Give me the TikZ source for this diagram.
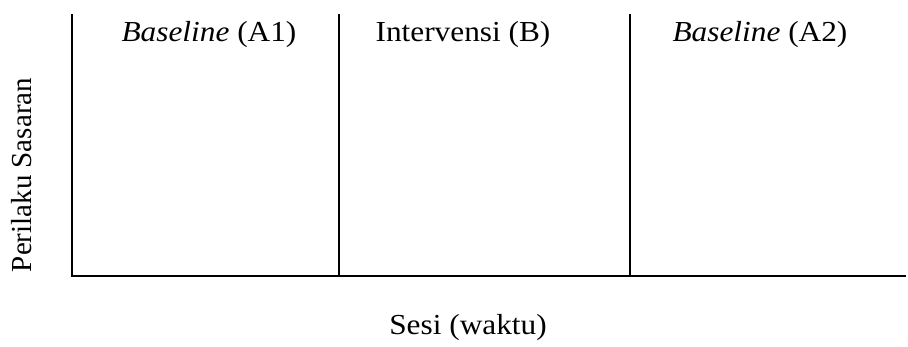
\documentclass[tikz,border=0pt]{standalone}
\usepackage{fontspec}
\setmainfont{Liberation Serif}
\begin{document}
\begin{tikzpicture}[x=1pt,y=-1pt,
  axis/.style={line width=2pt},
  divider/.style={line width=1.5pt},
  lbl/.style={inner sep=0pt, font=\fontsize{29}{34}\selectfont},
  hlbl/.style={lbl, xscale=1.08}]
\useasboundingbox (0,0) rectangle (908,347);
\coordinate (ytop) at (72,14);
\coordinate (o) at (72,276);
\coordinate (xend) at (906,276);
\coordinate (d1top) at (339,14);
\coordinate (d1bot) at (339,276);
\coordinate (d2top) at (630,14);
\coordinate (d2bot) at (630,276);
\draw[axis] (ytop) -- (o) -- (xend);
\draw[divider] (d1top) -- (d1bot);
\draw[divider] (d2top) -- (d2bot);
\node[hlbl] (a1) at (209,35) {\textit{Baseline} (A1)};
\node[hlbl] (b) at (463,35) {Intervensi (B)};
\node[hlbl] (a2) at (760,35) {\textit{Baseline} (A2)};
\node[hlbl] (xl) at (468,328) {Sesi (waktu)};
\node[lbl, rotate=90] (yl) at (22,175) {Perilaku Sasaran};
\end{tikzpicture}
\end{document}
